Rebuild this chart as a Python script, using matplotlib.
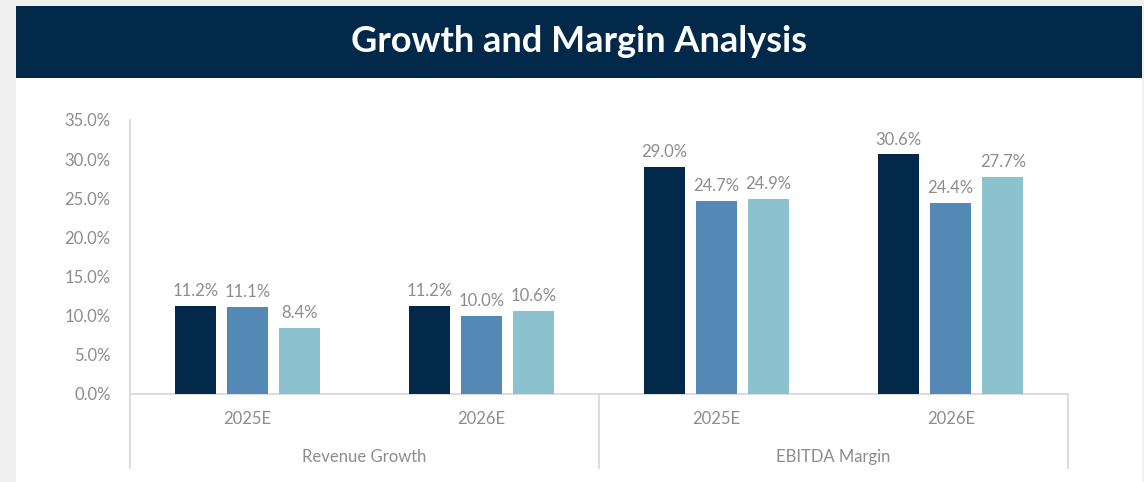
import matplotlib
matplotlib.use("Agg")
import matplotlib.pyplot as plt
import matplotlib.patches as patches
import matplotlib.transforms as mtransforms
import numpy as np

# chart data
groups = ["Revenue Growth", "EBITDA Margin"]
years = ["2025E", "2026E", "2025E", "2026E"]
series_a = [11.2, 11.2, 29.0, 30.6]
series_b = [11.1, 10.0, 24.7, 24.4]
series_c = [8.4, 10.6, 24.9, 27.7]
yticks = [0, 5, 10, 15, 20, 25, 30, 35]

colors = ["#03294a", "#5589b5", "#8cc2ce"]
grey_txt = "#8c8c8c"
line_col = "#d9d9d9"

plt.rcParams['font.family'] = ['Lato', 'DejaVu Sans']

W, H = 1144, 482
fig = plt.figure(figsize=(W / 100, H / 100), dpi=100)
fig.patch.set_facecolor("#f0f0f0")

# white card and navy title banner (pixel -> figure fraction)
def px_rect(x0, y0, x1, y1, color):
    fig.add_artist(patches.Rectangle((x0 / W, 1 - y1 / H), (x1 - x0) / W, (y1 - y0) / H,
                                     transform=fig.transFigure, facecolor=color,
                                     edgecolor="none", zorder=0))

px_rect(16, 6, 1142, 482, "white")
px_rect(16, 6, 1142, 78, "#03294a")
fig.text((16 + 1142) / 2 / W, 1 - 41 / H, "Growth and Margin Analysis", color="white",
         fontsize=26, fontweight="bold", ha="center", va="center")

ax = fig.add_axes([130 / W, 1 - 394 / H, (1068 - 130) / W, (394 - 120) / H])
ax.set_facecolor("none")

x = np.arange(len(years))
offs = [-0.222, 0.0, 0.222]
bw = 0.175
for vals, off, c in zip([series_a, series_b, series_c], offs, colors):
    bars = ax.bar(x + off, vals, width=bw, color=c, zorder=3)
    for b, v in zip(bars, vals):
        ax.annotate(f"{v:.1f}%", (b.get_x() + b.get_width() / 2, v), xytext=(0, 5),
                    textcoords="offset points", ha="center", va="bottom",
                    fontsize=12, color=grey_txt)

ax.set_xlim(-0.5, len(years) - 0.5)
ax.set_ylim(0, 35)
ax.set_yticks(yticks)
ax.set_yticklabels([f"{t:.1f}%" for t in yticks], fontsize=12, color=grey_txt)
ax.set_xticks(x)
ax.set_xticklabels(years, fontsize=12, color=grey_txt)
ax.tick_params(axis="both", length=0)
ax.tick_params(axis="y", pad=14)
ax.tick_params(axis="x", pad=12)

for s in ["top", "right"]:
    ax.spines[s].set_visible(False)
for s in ["left", "bottom"]:
    ax.spines[s].set_color(line_col)
    ax.spines[s].set_linewidth(1.3)

# multi-level category separators below the axis
trans = mtransforms.blended_transform_factory(ax.transData, ax.transAxes)
low = -(468 - 394) / (394 - 120)
for xs in [-0.5, 1.5, 3.5]:
    ax.plot([xs, xs], [0, low], transform=trans, color=line_col, lw=1.3, clip_on=False)
for i, g in enumerate(groups):
    ax.text(2 * i + 0.5, -(457 - 394) / (394 - 120), g, transform=trans, ha="center",
            va="center", fontsize=12, color=grey_txt)

fig.savefig("out.png", dpi=100, facecolor=fig.get_facecolor())
